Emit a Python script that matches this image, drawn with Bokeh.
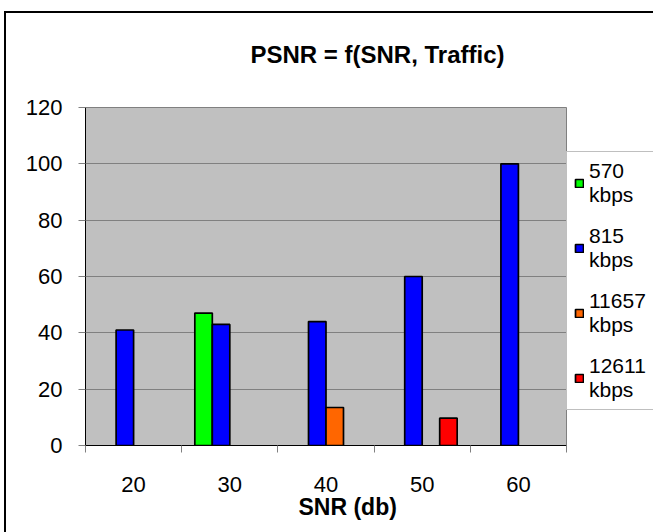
from bokeh.plotting import figure
from bokeh.models import (Range1d, FixedTicker, Legend, LegendItem, Title,
                          Label, ColumnDataSource)
from bokeh.embed import file_html
from bokeh.resources import INLINE

# ---- data ----
snr_labels = ["20", "30", "40", "50", "60"]
series_names = ["570\nkbps", "815\nkbps", "11657\nkbps", "12611\nkbps"]
psnr_570 = [None, 47, None, None, None]
psnr_815 = [41, 43, 44, 60, 100]
psnr_11657 = [None, None, 13.5, None, None]
psnr_12611 = [None, None, None, 9.7, None]
series_colors = ["#00FF00", "#0000FF", "#FF6600", "#FF0000"]
y_ticks = [0, 20, 40, 60, 80, 100, 120]
chart_title = "PSNR = f(SNR, Traffic)"
x_title = "SNR (db)"

all_series = [psnr_570, psnr_815, psnr_11657, psnr_12611]
n_cat = len(snr_labels)
n_ser = len(all_series)
bar_w = 1.0 / (n_ser + 1.5)          # Excel gap width 150 %
centers = [i + 0.5 for i in range(n_cat)]
bounds = [float(i) for i in range(n_cat + 1)]

FONT = "Liberation Sans"
W, H = 653, 532
ML, MB = 85, 87
PLOT_W, PLOT_H = 481, 338             # grey plot area size in px
FRAME_W, FRAME_H = W - ML, H - MB
x_end = n_cat * FRAME_W / PLOT_W      # frame also holds legend strip
y_end = y_ticks[-1] * FRAME_H / PLOT_H  # ... and the title band

p = figure(width=W, height=H, output_backend="svg", toolbar_location=None,
           x_range=Range1d(0, x_end), y_range=Range1d(0, y_end),
           min_border_left=ML, min_border_right=0, min_border_top=0,
           min_border_bottom=MB)

# outer chart border (only its left and top edges are inside the picture)
p.styles = {
    "background-color": "#FFFFFF",
    "background-image": "linear-gradient(#000000, #000000), linear-gradient(#000000, #000000)",
    "background-size": "2px 100%, 100% 2px",
    "background-position": "4px 11px, 4px 11px",
    "background-repeat": "no-repeat",
}
p.border_fill_color = "#FFFFFF"
p.border_fill_alpha = 0.0
p.background_fill_alpha = 0.0
p.outline_line_color = None

# grey plot area
p.quad(left=[0], right=[n_cat], bottom=[y_ticks[0]], top=[y_ticks[-1]],
       fill_color="#C0C0C0", line_color="#808080", line_width=1, level="image")

renderers = []
for k, vals in enumerate(all_series):
    xs = [c + (k - (n_ser - 1) / 2) * bar_w for c in centers]
    tops = [float("nan") if v is None else v for v in vals]
    src = ColumnDataSource(dict(x=xs, top=tops))
    r = p.vbar(x="x", top="top", bottom=0, width=bar_w, source=src,
               fill_color=series_colors[k], line_color="#000000", line_width=1.7)
    renderers.append(r)

# grid
p.xgrid.visible = False
p.ygrid.ticker = FixedTicker(ticks=y_ticks[1:-1])
p.ygrid.grid_line_color = "#808080"
p.ygrid.grid_line_width = 1

# y axis
ya = p.yaxis[0]
ya.bounds = (y_ticks[0], y_ticks[-1])
ya.ticker = FixedTicker(ticks=y_ticks)
ya.axis_line_color = "#000000"
ya.major_tick_line_color = "#808080"
ya.major_tick_in = 0
ya.major_tick_out = 7
ya.minor_tick_line_color = None
ya.major_label_standoff = 16
ya.major_label_text_font = FONT
ya.major_label_text_font_size = "22px"
ya.major_label_text_color = "#000000"

# x axis
xa = p.xaxis[0]
xa.bounds = (0, n_cat)
xa.ticker = FixedTicker(ticks=centers, minor_ticks=bounds)
xa.major_label_overrides = {c: lab for c, lab in zip(centers, snr_labels)}
xa.axis_line_color = "#000000"
xa.major_tick_in = 0
xa.major_tick_out = 0
xa.major_tick_line_color = None
xa.minor_tick_in = 0
xa.minor_tick_out = 7
xa.minor_tick_line_color = "#808080"
xa.major_label_standoff = 24
xa.major_label_text_font = FONT
xa.major_label_text_font_size = "22px"
xa.major_label_text_color = "#000000"

# chart title, in the band above the grey plot area
px_per_x = PLOT_W / n_cat
px_per_y = PLOT_H / y_ticks[-1]
title_left_px, title_base_px = 165, 390.7   # from plot-area left / bottom
p.add_layout(Label(x=title_left_px / px_per_x, y=title_base_px / px_per_y,
                   text=chart_title, text_align="left",
                   text_baseline="alphabetic", text_font=FONT,
                   text_font_size="24px", text_font_style="bold",
                   text_color="#000000"))

# x axis title
p.add_layout(Title(text=x_title, align="left", offset=213,
                   text_font=FONT, text_font_size="23px", text_font_style="bold",
                   text_color="#000000", standoff=-5), "below")

# legend, just right of the grey plot area
legend = Legend(items=[LegendItem(label=name, renderers=[r])
                       for name, r in zip(series_names, renderers)],
                location=(PLOT_W, 35), margin=0, padding=7, spacing=17,
                label_standoff=5, glyph_width=10, glyph_height=10, label_width=75,
                label_text_font=FONT, label_text_font_size="21px",
                label_text_color="#000000", label_text_line_height=1.2,
                border_line_color="#808080", border_line_width=1,
                background_fill_color="#FFFFFF", background_fill_alpha=1.0)
p.add_layout(legend)

open("out.html", "w").write(file_html(p, INLINE))
